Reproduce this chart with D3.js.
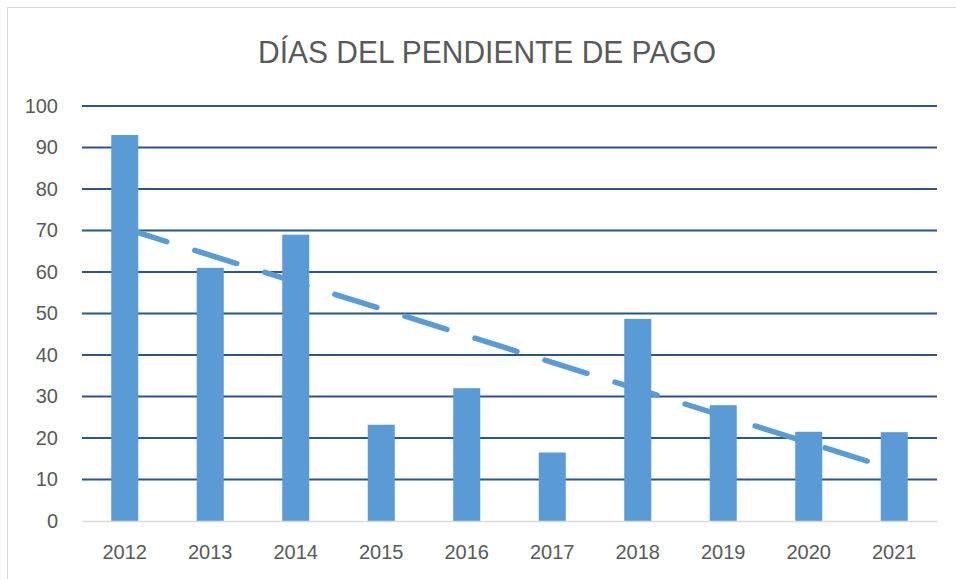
<!DOCTYPE html>
<html>
<head>
<meta charset="utf-8">
<script src="https://cdn.jsdelivr.net/npm/d3@7"></script>
<style>
  body { margin: 0; background: #fff; }
  text { font-family: "Liberation Sans", "Open Sans", sans-serif; fill: #595959; }
</style>
</head>
<body>
<svg id="chart"></svg>
<script>
// values
var years = ["2012", "2013", "2014", "2015", "2016", "2017", "2018", "2019", "2020", "2021"];
var dias = [93, 61, 69, 23.2, 32, 16.5, 48.7, 27.9, 21.5, 21.4];
var yTicks = [0, 10, 20, 30, 40, 50, 60, 70, 80, 90, 100];
// linear trend line, first and last year
var trendYears = ["2012", "2021"];
var trendValues = [70.5, 12.4];

var W = 956, H = 579;
var margin = {top: 106, right: 19, bottom: 58, left: 82}
  , width = W - margin.left - margin.right
  , height = H - margin.top - margin.bottom;

var svg = d3.select("#chart").attr("width", W).attr("height", H);

// chart frame
svg.append("rect")
    .attr("x", 7.5).attr("y", 7.5)
    .attr("width", W + 10).attr("height", H + 10)
    .attr("fill", "none").attr("stroke", "#d9d9d9").attr("stroke-width", 1);

svg.append("text")
    .attr("x", 487).attr("y", 63)
    .attr("text-anchor", "middle")
    .attr("font-size", 32)
    .attr("textLength", 458)
    .attr("lengthAdjust", "spacingAndGlyphs")
    .text("DÍAS DEL PENDIENTE DE PAGO");

var g = svg.append("g")
    .attr("transform", "translate(" + margin.left + "," + margin.top + ")");

var xScale = d3.scaleBand().domain(years).range([0, width]).paddingInner(0.684).paddingOuter(0.342);
var yScale = d3.scaleLinear().domain([0, 100]).range([height, 0]);

// gridlines
g.selectAll(".grid")
    .data(yTicks.filter(function(d){ return d > 0; }))
    .enter().append("line")
    .attr("x1", 0).attr("x2", width)
    .attr("y1", function(d){ return yScale(d); })
    .attr("y2", function(d){ return yScale(d); })
    .attr("stroke", "#2c5785").attr("stroke-width", 2);

// y axis labels
var yAxis = g.append("g")
    .call(d3.axisLeft(yScale).tickValues(yTicks).tickSize(0).tickPadding(24));
yAxis.select(".domain").remove();
yAxis.selectAll("text")
    .attr("font-size", 20).attr("fill", "#595959")
    .style("font-family", "Liberation Sans, sans-serif");

// bars
g.selectAll("rect.bar")
    .data(dias)
    .enter().append("rect")
    .attr("class", "bar")
    .attr("fill", "#5b9bd5")
    .attr("x", function(d, i){ return xScale(years[i]); })
    .attr("y", function(d){ return yScale(d); })
    .attr("width", xScale.bandwidth())
    .attr("height", function(d){ return height - yScale(d); });

// x axis
var xAxis = g.append("g")
    .attr("transform", "translate(0," + height + ")")
    .call(d3.axisBottom(d3.scaleBand().domain(years).range([0, width])).tickSize(0).tickPadding(24));
xAxis.select(".domain").attr("stroke", "#d9d9d9").attr("stroke-width", 1.5);
xAxis.selectAll("text")
    .attr("font-size", 20).attr("fill", "#595959")
    .style("font-family", "Liberation Sans, sans-serif");

// dashed trend line
var cx = function(y){ return xScale(y) + xScale.bandwidth() / 2; };
g.append("path")
    .datum(trendYears.map(function(y, i){ return [cx(y), yScale(trendValues[i])]; }))
    .attr("d", d3.line())
    .attr("fill", "none")
    .attr("stroke", "#5b9bd5")
    .attr("stroke-width", 5.5)
    .attr("stroke-linecap", "round")
    .attr("stroke-dasharray", "44 29.4");
</script>
</body>
</html>
